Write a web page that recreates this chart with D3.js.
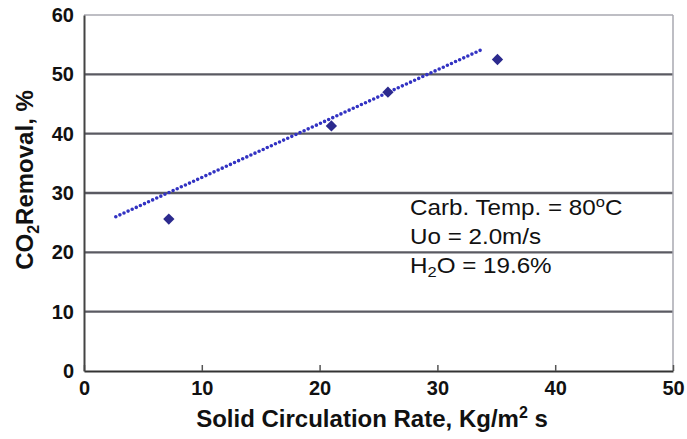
<!DOCTYPE html>
<html>
<head>
<meta charset="utf-8">
<script src="https://cdn.jsdelivr.net/npm/d3@7"></script>
<style>
  body { margin: 0; background: #fff; }
  text { font-family: "Liberation Sans", Arial, sans-serif; fill: #111; }
  .tick text { font-weight: bold; font-size: 20px; }
  .axis-title { font-weight: bold; font-size: 24px; }
  .note { font-size: 22px; }
</style>
</head>
<body>
<script>
"use strict"

// measured points
const rate    = [7.2, 21.0, 25.8, 35.1]
const removal = [25.6, 41.3, 47.0, 52.5]

// dotted trend line, end points as drawn
const trendRate    = [2.7, 33.8]
const trendRemoval = [26.0, 54.2]

const xTicks = [0, 10, 20, 30, 40, 50]
const yTicks = [0, 10, 20, 30, 40, 50, 60]

const width  = 687
const height = 439
const margin = { top : 15, right : 14, bottom : 68, left : 84 }

const x = d3.scaleLinear().domain([0, 50]).range([margin.left, width - margin.right])
const y = d3.scaleLinear().domain([0, 60]).range([height - margin.bottom, margin.top])

const svg = d3.select("body").append("svg")
  .attr("width", width)
  .attr("height", height)

// horizontal grid lines
svg.append("g").selectAll("line")
  .data(yTicks.filter(t => t > 0))
  .enter().append("line")
    .attr("x1", x(0))
    .attr("x2", x(50))
    .attr("y1", d => y(d))
    .attr("y2", d => y(d))
    .attr("stroke", d => d === 60 ? "#a8a8b0" : "#5a5a62")
    .attr("stroke-width", d => d === 60 ? 1.5 : 2.4)

// right border
svg.append("line")
  .attr("x1", x(50)).attr("x2", x(50))
  .attr("y1", y(60)).attr("y2", y(0))
  .attr("stroke", "#a8a8b0")
  .attr("stroke-width", 1.5)

// axes
const xAxis = svg.append("g")
  .attr("transform", `translate(0 ${y(0)})`)
  .call(d3.axisBottom(x).tickValues(xTicks).tickSizeInner(-6).tickSizeOuter(0).tickPadding(9))
xAxis.select(".domain").attr("stroke", "#333").attr("stroke-width", 2)
xAxis.selectAll(".tick line").attr("stroke", "#555").attr("stroke-width", 1.5)

const yAxis = svg.append("g")
  .attr("transform", `translate(${x(0)} 0)`)
  .call(d3.axisLeft(y).tickValues(yTicks).tickSize(0).tickPadding(10))
yAxis.select(".domain").attr("stroke", "#444").attr("stroke-width", 2)
svg.selectAll(".tick text").attr("fill", "#111")
xAxis.selectAll(".tick text").attr("dy", "0.76em")

// trend line
svg.append("path")
  .datum(d3.zip(trendRate, trendRemoval))
  .attr("d", d3.line().x(d => x(d[0])).y(d => y(d[1])))
  .attr("fill", "none")
  .attr("stroke", "#3232c2")
  .attr("stroke-width", 3.6)
  .attr("stroke-linecap", "round")
  .attr("stroke-dasharray", "0 4.5")

// diamonds
svg.append("g").selectAll("path")
  .data(d3.zip(rate, removal))
  .enter().append("path")
    .attr("d", d3.symbol(d3.symbolSquare, 64))
    .attr("transform", d => `translate(${x(d[0])} ${y(d[1])}) rotate(45)`)
    .attr("fill", "#2c2a8e")

// axis titles
svg.append("text")
  .attr("class", "axis-title")
  .attr("text-anchor", "middle")
  .attr("x", 372)
  .attr("y", 427)
  .call(t => {
    t.append("tspan").text("Solid Circulation Rate, Kg/m")
    t.append("tspan").attr("font-size", 16).attr("dy", -9).text("2")
    t.append("tspan").attr("dy", 9).text(" s")
  })

svg.append("text")
  .attr("class", "axis-title")
  .attr("text-anchor", "middle")
  .attr("transform", "translate(33 180) rotate(-90)")
  .call(t => {
    t.append("tspan").text("CO")
    t.append("tspan").attr("font-size", 16).attr("dy", 6).text("2")
    t.append("tspan").attr("dy", -6).text("Removal, %")
  })

// notes, slightly widened like the source
const notes = svg.append("g").attr("class", "note")
  .attr("transform", "translate(410 0) scale(1.1 1)")
notes.append("text").attr("y", 215)
  .call(t => {
    t.append("tspan").text("Carb. Temp. = 80")
    t.append("tspan").attr("font-size", 15).attr("dy", -8).text("o")
    t.append("tspan").attr("dy", 8).text("C")
  })
notes.append("text").attr("y", 244).text("Uo = 2.0m/s")
notes.append("text").attr("y", 273)
  .call(t => {
    t.append("tspan").text("H")
    t.append("tspan").attr("font-size", 15).attr("dy", 4).text("2")
    t.append("tspan").attr("dy", -4).text("O = 19.6%")
  })
</script>
</body>
</html>
